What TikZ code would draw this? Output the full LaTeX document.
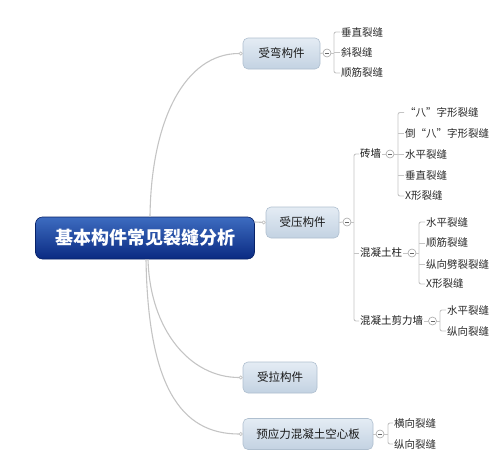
\documentclass[tikz,border=0pt]{standalone}
\usepackage{fontspec}
\setmainfont{Noto Sans CJK SC}
\usetikzlibrary{arrows.meta}
\definecolor{conn}{HTML}{C4C4C4}
\definecolor{boxtop}{HTML}{E4ECF4}
\definecolor{boxbot}{HTML}{C3D2E2}
\definecolor{boxline}{HTML}{AFBFCF}
\definecolor{roottop}{HTML}{3D6CC0}
\definecolor{rootbot}{HTML}{0A2A82}
\definecolor{leaftext}{HTML}{2A2A2A}
\tikzset{
  rootbox/.style={rectangle, rounded corners=7pt, top color=roottop, bottom color=rootbot, draw=rootbot!80!black, line width=0.6pt, text=white, font=\fontsize{18}{20}\selectfont\bfseries, minimum width=219pt, minimum height=42pt, inner sep=0pt},
  mainbox/.style={rectangle, rounded corners=5pt, top color=boxtop, bottom color=boxbot, draw=boxline, line width=0.6pt, text=black!90, font=\fontsize{11.5}{13}\selectfont, minimum height=31pt, inner sep=0pt},
  leaf/.style={anchor=west, inner sep=1pt, text=leaftext, font=\fontsize{10.5}{12}\selectfont},
  sub/.style={anchor=west, inner sep=1pt, text=black!90, font=\fontsize{10.5}{12}\selectfont},
  minus/.style={circle, draw=gray!70, fill=white, line width=0.6pt, minimum size=8pt, inner sep=0pt,
    path picture={\draw[gray!80!black, line width=0.8pt] ([xshift=-2pt]path picture bounding box.center) -- ([xshift=2pt]path picture bounding box.center);}},
  cline/.style={draw=conn, line width=0.9pt},
  curve/.style={draw=conn, line width=1.1pt, -{Circle[open, length=4pt, width=4pt, fill=white, line width=0.7pt]}},
}
\begin{document}
\begin{tikzpicture}[x=1pt, y=-1pt]
\useasboundingbox (0,0) rectangle (498,458);

% root and main branches
\node[rootbox] (root) at (145,238) {基本构件常见裂缝分析};
\node[mainbox, minimum width=77pt] (bend) at (281.5,53.5) {受弯构件};
\node[mainbox, minimum width=73pt] (press) at (302.5,222.5) {受压构件};
\node[mainbox, minimum width=74pt] (tens) at (280,377.5) {受拉构件};
\node[mainbox, minimum width=130pt] (pre) at (308,434) {预应力混凝土空心板};

\draw[curve] ([xshift=5pt]root.north) .. controls (151,120) and (185,53.5) .. (bend.west);
\draw[curve] ([yshift=16pt]root.east) -- (press.west);
\draw[curve] ([xshift=3pt]root.south) .. controls (150,330) and (190,377.5) .. (tens.west);
\draw[curve] ([xshift=1pt]root.south) .. controls (148,385) and (180,434) .. (pre.west);

% 受弯构件
\node[minus] (c0) at (327,53) {};
\node[leaf] (b1) at (340,32) {垂直裂缝};
\node[leaf] (b2) at (340,52.5) {斜裂缝};
\node[leaf] (b3) at (340,73) {顺筋裂缝};
\draw[cline] (bend.east) -- (c0.west);
\draw[cline] (c0.east) -- (334,53);
\draw[cline, rounded corners=2pt] (b1.west) -- (334,32) -- (334,73) -- (b3.west);
\draw[cline] (b2.west) -- (334,52.5);

% 受压构件
\node[minus] (cp) at (347,222) {};
\draw[cline] (press.east) -- (cp.west);
\draw[cline] (cp.east) -- (354,222);
\node[sub] (s1) at (359,154) {砖墙};
\node[sub] (s2) at (359,253) {混凝土柱};
\node[sub] (s3) at (359,321) {混凝土剪力墙};
\draw[cline, rounded corners=2pt] (s1.west) -- (354,154) -- (354,321) -- (s3.west);
\draw[cline] (s2.west) -- (354,253);

% 砖墙
\node[minus] (c1) at (390,154) {};
\draw[cline] (s1.east) -- (c1.west);
\draw[cline] (c1.east) -- (398,154);
\node[leaf] (w1) at (404,112.5) {“八”字形裂缝};
\node[leaf] (w2) at (404,133.5) {倒“八”字形裂缝};
\node[leaf] (w3) at (404,154.5) {水平裂缝};
\node[leaf] (w4) at (404,175.5) {垂直裂缝};
\node[leaf] (w5) at (404,196) {X形裂缝};
\draw[cline, rounded corners=2pt] (w1.west) -- (398,112.5) -- (398,196) -- (w5.west);
\draw[cline] (w2.west) -- (398,133.5);
\draw[cline] (w3.west) -- (398,154.5);
\draw[cline] (w4.west) -- (398,175.5);

% 混凝土柱
\node[minus] (c2) at (412,253) {};
\draw[cline] (s2.east) -- (c2.west);
\draw[cline] (c2.east) -- (419,253);
\node[leaf] (z1) at (425,222) {水平裂缝};
\node[leaf] (z2) at (425,243) {顺筋裂缝};
\node[leaf] (z3) at (425,264) {纵向劈裂裂缝};
\node[leaf] (z4) at (425,284) {X形裂缝};
\draw[cline, rounded corners=2pt] (z1.west) -- (419,222) -- (419,284) -- (z4.west);
\draw[cline] (z2.west) -- (419,243);
\draw[cline] (z3.west) -- (419,264);

% 混凝土剪力墙
\node[minus] (c3) at (432.5,321) {};
\draw[cline] (s3.east) -- (c3.west);
\draw[cline] (c3.east) -- (440,321);
\node[leaf] (j1) at (446,310) {水平裂缝};
\node[leaf] (j2) at (446,331) {纵向裂缝};
\draw[cline, rounded corners=2pt] (j1.west) -- (440,310) -- (440,331) -- (j2.west);

% 预应力混凝土空心板
\node[minus] (c4) at (380,434) {};
\draw[cline] (pre.east) -- (c4.west);
\draw[cline] (c4.east) -- (388,434);
\node[leaf] (p1) at (393,423) {横向裂缝};
\node[leaf] (p2) at (393,444) {纵向裂缝};
\draw[cline, rounded corners=2pt] (p1.west) -- (388,423) -- (388,444) -- (p2.west);
\end{tikzpicture}
\end{document}
